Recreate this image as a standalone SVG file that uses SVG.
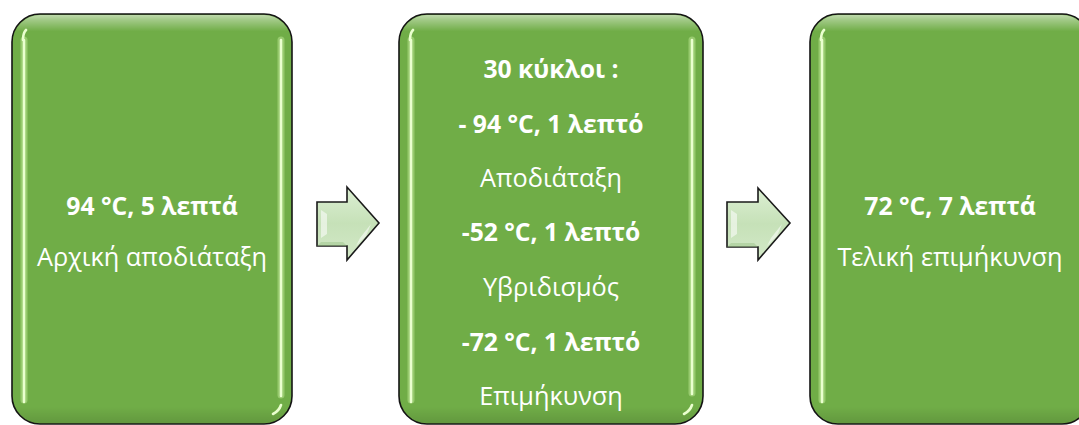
<svg xmlns="http://www.w3.org/2000/svg" width="1079" height="425" viewBox="0 0 1079 425">
  <style>
    .box { fill: #70AD47; stroke: #141414; stroke-width: 1.6; }
    .topgloss { fill: url(#topGloss); stroke: none; }
    .hl { stroke: #eaffcf; stroke-width: 2.6; stroke-linecap: round; fill: none; }
    .glow { stroke: #c7ee9e; stroke-width: 7; stroke-linecap: round; fill: none; opacity: 0.45; }
    .t { font-family: "Open Sans", "Noto Sans", sans-serif; font-size: 25.3px; fill: #ffffff; text-anchor: middle; }
    .b { font-weight: bold; font-size: 24.7px; }
    .arrow { fill: url(#arrowGrad); stroke: #1a1a1a; stroke-width: 1.6; stroke-linejoin: miter; }
    .bevel { fill: #ffffff; opacity: 0.55; }
    .bevelDark { fill: #9cc48a; opacity: 0.5; }
  </style>
  <defs>
    <linearGradient id="topGloss" x1="0" y1="0" x2="0" y2="1">
      <stop offset="0" stop-color="#ffffff" stop-opacity="0.55"/>
      <stop offset="0.012" stop-color="#ffffff" stop-opacity="0.35"/>
      <stop offset="0.04" stop-color="#ffffff" stop-opacity="0"/>
      <stop offset="0.96" stop-color="#000000" stop-opacity="0"/>
      <stop offset="1" stop-color="#000000" stop-opacity="0.12"/>
    </linearGradient>
    <linearGradient id="arrowGrad" x1="0" y1="0" x2="0" y2="1">
      <stop offset="0" stop-color="#dcefd3"/>
      <stop offset="0.5" stop-color="#c6e1b8"/>
      <stop offset="1" stop-color="#d3e9c8"/>
    </linearGradient>
  </defs>

  <g id="node1">
    <rect class="box" x="12" y="14" width="280" height="410" rx="28" ry="28"/>
    <rect class="topgloss" x="13" y="15" width="278" height="408" rx="27" ry="27"/>
    <path class="glow" d="M24,40 L24,400"/>
    <path class="hl" d="M23,40 Q23,33 26,30 M24,40 L24,402"/>
    <path class="glow" d="M281,40 L281,395"/>
    <path class="hl" d="M281,40 L281,396"/>
    <path class="hl" d="M273,414 Q279,411 281,405"/>
    <text class="t b" x="152" y="215">94 °C, 5 λεπτά</text>
    <text class="t" x="152" y="266">Αρχική αποδιάταξη</text>
  </g>

  <g id="node2">
    <rect class="box" x="399" y="14" width="304" height="410" rx="28" ry="28"/>
    <rect class="topgloss" x="400" y="15" width="302" height="408" rx="27" ry="27"/>
    <path class="glow" d="M411,40 L411,400"/>
    <path class="hl" d="M410,40 Q410,33 413,30 M411,40 L411,402"/>
    <path class="glow" d="M692,40 L692,393"/>
    <path class="hl" d="M692,40 L692,394"/>
    <path class="hl" d="M684,414 Q690,411 692,405"/>
    <text class="t b" x="551" y="78">30 κύκλοι :</text>
    <text class="t b" x="551" y="133">- 94 °C, 1 λεπτό</text>
    <text class="t" x="551" y="187">Αποδιάταξη</text>
    <text class="t b" x="551" y="241">-52 °C, 1 λεπτό</text>
    <text class="t" x="551" y="296">Υβριδισμός</text>
    <text class="t b" x="551" y="351">-72 °C, 1 λεπτό</text>
    <text class="t" x="551" y="405">Επιμήκυνση</text>
  </g>

  <g id="node3">
    <rect class="box" x="810" y="14" width="280" height="410" rx="28" ry="28"/>
    <rect class="topgloss" x="811" y="15" width="278" height="408" rx="27" ry="27"/>
    <path class="glow" d="M822,40 L822,400"/>
    <path class="hl" d="M821,40 Q821,33 824,30 M822,40 L822,402"/>
    <text class="t b" x="950" y="215">72 °C, 7 λεπτά</text>
    <text class="t" x="950" y="266">Τελική επιμήκυνση</text>
  </g>

  <g id="connectors">
    <g id="arrow1">
      <path class="arrow" d="M317,202 L347,202 L347,187 L379,223 L347,260 L347,246 L317,246 Z"/>
      <path class="bevel" d="M321,210 L327,214 L327,234 L321,238 Z"/>
      <path class="bevel" d="M360,238 L371,224 L366,236 L356,246 Z"/>
      <path class="bevelDark" d="M321,242 L343,242 L347,246 L317,246 Z"/>
    </g>
    <g id="arrow2">
      <path class="arrow" d="M727,202 L758,202 L758,188 L790,223 L758,260 L758,247 L727,247 Z"/>
      <path class="bevel" d="M731,210 L737,214 L737,234 L731,238 Z"/>
      <path class="bevel" d="M771,238 L782,224 L777,236 L767,246 Z"/>
      <path class="bevelDark" d="M731,243 L754,243 L758,247 L727,247 Z"/>
    </g>
  </g>
</svg>
